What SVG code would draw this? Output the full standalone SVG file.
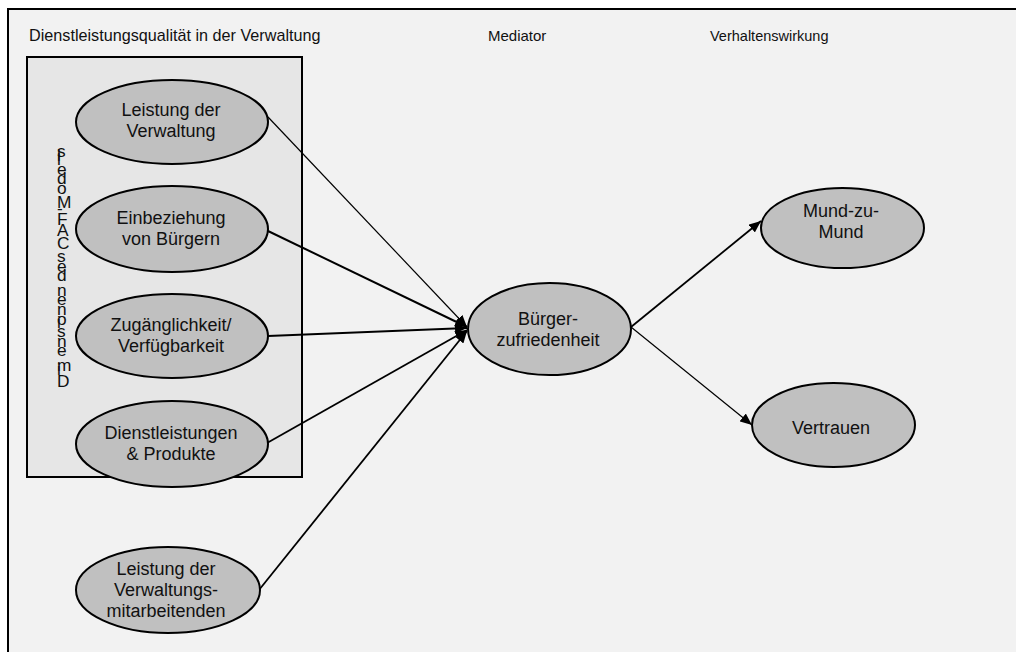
<svg xmlns="http://www.w3.org/2000/svg" width="1016" height="652" viewBox="0 0 1016 652">
<style>
.hdr{font-family:"Liberation Sans",Arial,sans-serif;font-size:15px;fill:#111}
.lbl{font-family:"Liberation Sans",Arial,sans-serif;font-size:18px;fill:#111;text-anchor:middle}
.node{fill:#c0c0c0;stroke:#000;stroke-width:2}
.conn{stroke:#000;fill:none}
</style>
<defs>
<marker id="ah" viewBox="0 0 12 10" refX="12" refY="5" markerWidth="12" markerHeight="10" markerUnits="userSpaceOnUse" orient="auto">
<path d="M0,0 L12,5 L0,10 z" fill="#000"/>
</marker>
</defs>
<rect x="0" y="0" width="1016" height="652" fill="#fff"/>
<rect id="frame" x="8" y="9" width="1030" height="670" fill="#f2f2f2" stroke="#000" stroke-width="2"/>
<text class="hdr" x="29" y="41" style="font-size:16.2px">Dienstleistungsqualität in der Verwaltung</text>
<text class="hdr" x="488" y="41">Mediator</text>
<text class="hdr" x="710" y="41" style="font-size:14.5px">Verhaltenswirkung</text>
<g id="caf-box">
<rect x="27" y="57" width="275" height="420" fill="#e6e6e6" stroke="#000" stroke-width="2"/>
<text transform="rotate(-90)" x="-387" y="57" rotate="90" style="font-family:'Liberation Sans',Arial,sans-serif;font-size:17.3px;fill:#111">Dimensionen des CAF-Modells</text>
</g>
<g id="connectors">
<line class="conn" x1="268" y1="117" x2="467" y2="327" stroke-width="1.2" marker-end="url(#ah)"/>
<line class="conn" x1="268" y1="231" x2="467" y2="327" stroke-width="2" marker-end="url(#ah)"/>
<line class="conn" x1="268" y1="336" x2="467" y2="328" stroke-width="2.2" marker-end="url(#ah)"/>
<line class="conn" x1="267" y1="443" x2="467" y2="330" stroke-width="1.8" marker-end="url(#ah)"/>
<line class="conn" x1="259" y1="590" x2="467" y2="331" stroke-width="1.8" marker-end="url(#ah)"/>
<line class="conn" x1="631" y1="327" x2="761" y2="221" stroke-width="1.8" marker-end="url(#ah)"/>
<line class="conn" x1="631" y1="327" x2="752" y2="425" stroke-width="1.2" marker-end="url(#ah)"/>
</g>
<g id="n-leistung">
<ellipse class="node" cx="172" cy="122" rx="96" ry="42"/>
<text class="lbl" x="171" y="116">Leistung der</text>
<text class="lbl" x="171" y="137">Verwaltung</text>
</g>
<g id="n-einbeziehung">
<ellipse class="node" cx="172" cy="229" rx="96" ry="43"/>
<text class="lbl" x="171" y="224">Einbeziehung</text>
<text class="lbl" x="171" y="245">von Bürgern</text>
</g>
<g id="n-zugang">
<ellipse class="node" cx="172" cy="336" rx="96" ry="42"/>
<text class="lbl" x="171" y="331">Zugänglichkeit/</text>
<text class="lbl" x="171" y="352">Verfügbarkeit</text>
</g>
<g id="n-dienst">
<ellipse class="node" cx="172" cy="444" rx="96" ry="43"/>
<text class="lbl" x="171" y="439">Dienstleistungen</text>
<text class="lbl" x="171" y="460">&amp; Produkte</text>
</g>
<g id="n-mitarbeitende">
<ellipse class="node" cx="168" cy="590" rx="92" ry="43"/>
<text class="lbl" x="166" y="575">Leistung der</text>
<text class="lbl" x="166" y="596">Verwaltungs-</text>
<text class="lbl" x="166" y="617">mitarbeitenden</text>
</g>
<g id="n-zufriedenheit">
<ellipse class="node" cx="549.5" cy="329" rx="81.5" ry="46"/>
<text class="lbl" x="548" y="325">Bürger-</text>
<text class="lbl" x="548" y="346">zufriedenheit</text>
</g>
<g id="n-mund">
<ellipse class="node" cx="842.5" cy="228" rx="81.5" ry="40"/>
<text class="lbl" x="841" y="217">Mund-zu-</text>
<text class="lbl" x="841" y="238">Mund</text>
</g>
<g id="n-vertrauen">
<ellipse class="node" cx="833.5" cy="425" rx="81.5" ry="42"/>
<text class="lbl" x="831" y="434">Vertrauen</text>
</g>
</svg>
